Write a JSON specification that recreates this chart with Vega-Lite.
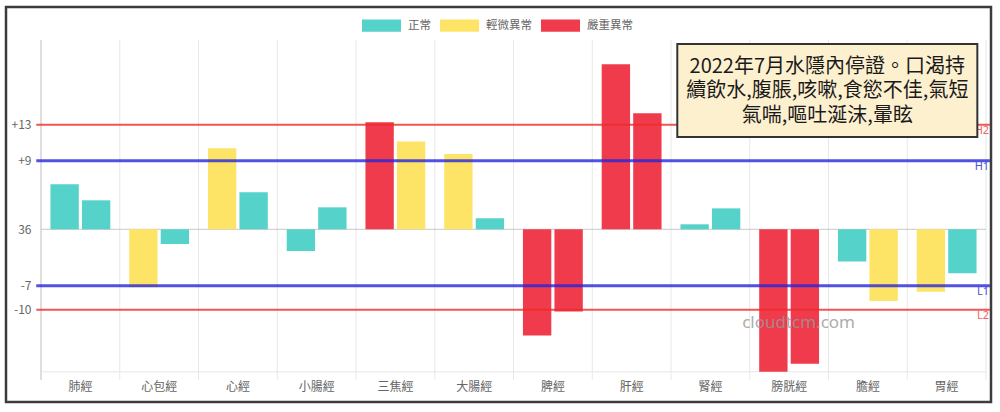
{
  "$schema": "https://vega.github.io/schema/vega-lite/v6.json",
  "autosize": {"type": "none"},
  "padding": {"left": 6, "top": 7, "right": 9, "bottom": 10},
  "width": 985,
  "height": 395,
  "background": "white",
  "config": {
    "font": "Noto Sans CJK TC",
    "view": {"stroke": "#3c3c3c", "strokeWidth": 2.5},
    "axisX": {
      "orient": "bottom", "offset": -30.3, "ticks": false, "domain": false, "grid": false,
      "labelAngle": 0, "labelPadding": 10, "labelFontSize": 12, "labelColor": "#666666", "labelFont": "Noto Sans CJK TC"
    },
    "axisY": {
      "offset": -35, "ticks": false, "domain": false, "grid": false, "labelPadding": 10,
      "labelFontSize": 12, "labelColor": "#666666", "labelFont": "Noto Sans CJK TC"
    }
  },
  "datasets": {
    "bars": [
      {"m": "肺經", "side": "1", "v": 5.59, "status": "正常"},
      {"m": "肺經", "side": "2", "v": 3.6, "status": "正常"},
      {"m": "心包經", "side": "1", "v": -7.2, "status": "輕微異常"},
      {"m": "心包經", "side": "2", "v": -1.83, "status": "正常"},
      {"m": "心經", "side": "1", "v": 10.06, "status": "輕微異常"},
      {"m": "心經", "side": "2", "v": 4.6, "status": "正常"},
      {"m": "小腸經", "side": "1", "v": -2.7, "status": "正常"},
      {"m": "小腸經", "side": "2", "v": 2.73, "status": "正常"},
      {"m": "三焦經", "side": "1", "v": 13.3, "status": "嚴重異常"},
      {"m": "三焦經", "side": "2", "v": 10.9, "status": "輕微異常"},
      {"m": "大腸經", "side": "1", "v": 9.35, "status": "輕微異常"},
      {"m": "大腸經", "side": "2", "v": 1.37, "status": "正常"},
      {"m": "脾經", "side": "1", "v": -13.2, "status": "嚴重異常"},
      {"m": "脾經", "side": "2", "v": -10.2, "status": "嚴重異常"},
      {"m": "肝經", "side": "1", "v": 20.5, "status": "嚴重異常"},
      {"m": "肝經", "side": "2", "v": 14.4, "status": "嚴重異常"},
      {"m": "腎經", "side": "1", "v": 0.62, "status": "正常"},
      {"m": "腎經", "side": "2", "v": 2.6, "status": "正常"},
      {"m": "膀胱經", "side": "1", "v": -17.7, "status": "嚴重異常"},
      {"m": "膀胱經", "side": "2", "v": -16.7, "status": "嚴重異常"},
      {"m": "膽經", "side": "1", "v": -4.0, "status": "正常"},
      {"m": "膽經", "side": "2", "v": -8.9, "status": "輕微異常"},
      {"m": "胃經", "side": "1", "v": -7.75, "status": "輕微異常"},
      {"m": "胃經", "side": "2", "v": -5.47, "status": "正常"}
    ],
    "thr": [
      {"name": "H2", "v": 13, "level": "severe"},
      {"name": "H1", "v": 8.5, "level": "mild"},
      {"name": "L1", "v": -7, "level": "mild"},
      {"name": "L2", "v": -10, "level": "severe"}
    ],
    "cats": [
      {"m": "肺經"}, {"m": "心包經"}, {"m": "心經"}, {"m": "小腸經"}, {"m": "三焦經"}, {"m": "大腸經"},
      {"m": "脾經"}, {"m": "肝經"}, {"m": "腎經"}, {"m": "膀胱經"}, {"m": "膽經"}, {"m": "胃經"}
    ],
    "note": [
      {"text": "2022年7月水隱內停證。口渴持\n續飲水,腹脹,咳嗽,食慾不佳,氣短\n氣喘,嘔吐涎沫,暈眩", "mark": "cloudtcm.com"}
    ]
  },
  "layer": [
    {
      "data": {"name": "cats"},
      "mark": {"type": "rule", "strokeWidth": 1},
      "encoding": {
        "x": {
          "field": "m", "type": "nominal", "bandPosition": 0, "sort": null,
          "scale": {
            "domain": ["肺經", "心包經", "心經", "小腸經", "三焦經", "大腸經", "脾經", "肝經", "腎經", "膀胱經", "膽經", "胃經"],
            "paddingInner": 0, "paddingOuter": 0.254, "align": 0.875
          },
          "axis": {"title": null}
        },
        "y": {
          "datum": 23.5, "type": "quantitative",
          "scale": {"domain": [-21.45, 27.61], "nice": false, "zero": false},
          "axis": {
            "title": null, "values": [13, 8.5, 0, -7, -10],
            "labelExpr": "datum.value == 13 ? '+13' : datum.value == 8.5 ? '+9' : datum.value == 0 ? '36' : datum.value == -7 ? '-7' : '-10'"
          }
        },
        "y2": {"datum": -18.7},
        "color": {"condition": {"test": "datum.m == '肺經'", "value": "#bdbdbd"}, "value": "#e8e8e8"}
      }
    },
    {
      "data": {"name": "note"},
      "mark": {"type": "rule", "strokeWidth": 1, "color": "#e8e8e8"},
      "encoding": {
        "x": {"datum": "胃經", "type": "nominal", "bandPosition": 1, "axis": {"title": null}},
        "y": {"datum": 23.5, "type": "quantitative", "axis": {"title": null}},
        "y2": {"datum": -18.7}
      }
    },
    {
      "data": {"name": "note"},
      "mark": {"type": "rule", "strokeWidth": 1, "color": "#c8c8c8"},
      "encoding": {
        "x": {"datum": "肺經", "type": "nominal", "bandPosition": 0, "axis": {"title": null}},
        "x2": {"datum": "胃經", "bandPosition": 1},
        "y": {"datum": 0, "type": "quantitative", "axis": {"title": null}}
      }
    },
    {
      "data": {"name": "note"},
      "mark": {"type": "rule", "strokeWidth": 1, "color": "#e6e6e6"},
      "encoding": {
        "x": {"datum": "肺經", "type": "nominal", "bandPosition": 0, "axis": {"title": null}},
        "x2": {"datum": "胃經", "bandPosition": 1},
        "y": {"datum": -17.7, "type": "quantitative", "axis": {"title": null}}
      }
    },
    {
      "data": {"name": "bars"},
      "mark": {"type": "bar"},
      "encoding": {
        "x": {"field": "m", "type": "nominal", "sort": null, "axis": {"title": null}},
        "xOffset": {"field": "side", "type": "nominal", "scale": {"paddingInner": 0.1, "paddingOuter": 0.3}},
        "y": {"field": "v", "type": "quantitative", "axis": {"title": null}},
        "y2": {"datum": 0},
        "color": {
          "field": "status", "type": "nominal",
          "scale": {"domain": ["正常", "輕微異常", "嚴重異常"], "range": ["#55D2C9", "#FEE466", "#EF3B4C"]},
          "legend": {
            "orient": "none", "legendX": 356, "legendY": -1, "direction": "horizontal", "title": null,
            "symbolType": "M-1,-0.32H1V0.32H-1Z", "symbolSize": 1521, "symbolStrokeWidth": 0, "symbolOpacity": 1,
            "labelFontSize": 11.5, "labelColor": "#666666", "labelFont": "Noto Sans CJK TC",
            "labelOffset": 7, "columnPadding": 9, "padding": 0
          }
        }
      }
    },
    {
      "data": {"name": "thr"},
      "mark": {"type": "rule", "opacity": 0.8},
      "encoding": {
        "x": {"datum": "肺經", "type": "nominal", "bandPosition": -0.06, "axis": {"title": null}},
        "x2": {"datum": "胃經", "bandPosition": 1.05},
        "y": {"field": "v", "type": "quantitative", "axis": {"title": null}},
        "color": {"condition": {"test": "datum.level == 'severe'", "value": "#EE2B2B"}, "value": "#2525DD"},
        "strokeWidth": {"condition": {"test": "datum.level == 'severe'", "value": 2}, "value": 3}
      }
    },
    {
      "data": {"name": "thr"},
      "mark": {"type": "text", "align": "right", "baseline": "middle", "dy": 6.5, "fontSize": 11, "font": "Noto Sans"},
      "encoding": {
        "x": {"datum": "胃經", "type": "nominal", "bandPosition": 1.04, "axis": {"title": null}},
        "y": {"field": "v", "type": "quantitative", "axis": {"title": null}},
        "text": {"field": "name"},
        "color": {"condition": {"test": "datum.level == 'severe'", "value": "#F06464"}, "value": "#5252D6"}
      }
    },
    {
      "data": {"name": "note"},
      "mark": {"type": "text", "align": "center", "baseline": "middle", "fontSize": 17, "font": "Noto Sans", "color": "#999999", "opacity": 0.8},
      "encoding": {
        "x": {"datum": "膀胱經", "type": "nominal", "bandPosition": 0.62, "axis": {"title": null}},
        "y": {"datum": -11.68, "type": "quantitative", "axis": {"title": null}},
        "text": {"field": "mark"}
      }
    },
    {
      "data": {"name": "note"},
      "mark": {"type": "rect", "fill": "#FDF0CF", "stroke": "#333333", "strokeWidth": 2},
      "encoding": {
        "x": {"datum": "腎經", "type": "nominal", "bandPosition": 0.08, "axis": {"title": null}},
        "x2": {"datum": "胃經", "bandPosition": 0.89},
        "y": {"datum": 23.02, "type": "quantitative", "axis": {"title": null}},
        "y2": {"datum": 11.47}
      }
    },
    {
      "data": {"name": "note"},
      "mark": {"type": "text", "align": "center", "baseline": "middle", "fontSize": 20, "lineHeight": 24.5, "lineBreak": "\n", "color": "#1a1a1a", "font": "Noto Sans CJK TC"},
      "encoding": {
        "x": {"datum": "膀胱經", "type": "nominal", "bandPosition": 0.985, "axis": {"title": null}},
        "y": {"datum": 20.2, "type": "quantitative", "axis": {"title": null}},
        "text": {"field": "text"}
      }
    }
  ]
}
